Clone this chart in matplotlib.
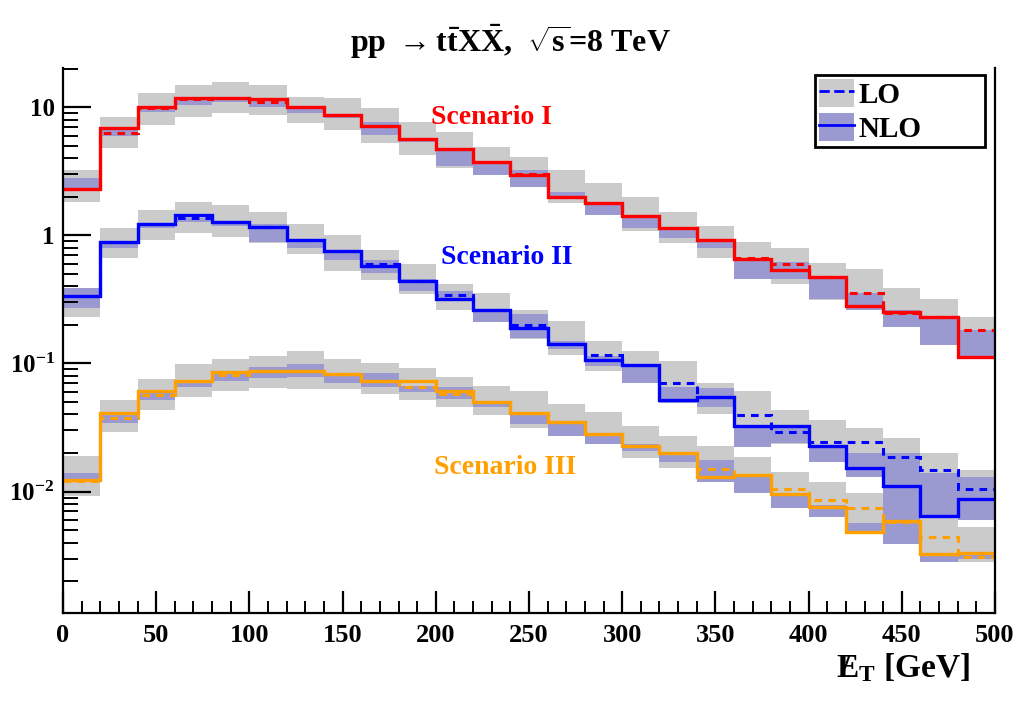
import matplotlib
matplotlib.use("Agg")
import matplotlib.pyplot as plt
import numpy as np
from matplotlib.patches import Patch
from matplotlib.lines import Line2D
from matplotlib.ticker import FixedLocator, FixedFormatter, LogLocator, NullFormatter, MultipleLocator

plt.rcParams['font.family'] = ['Liberation Serif', 'DejaVu Serif']
plt.rcParams['font.weight'] = 'bold'
plt.rcParams['mathtext.fontset'] = 'custom'
plt.rcParams['mathtext.rm'] = 'Liberation Serif:bold'
plt.rcParams['mathtext.bf'] = 'Liberation Serif:bold'
plt.rcParams['mathtext.it'] = 'Liberation Serif:italic:bold'

# bin edges in GeV
bin_edges = [0, 20, 40, 60, 80, 100, 120, 140, 160, 180, 200, 220, 240,
             260, 280, 300, 320, 340, 360, 380, 400, 420, 440, 460, 480, 500]

# Scenario I
s1_nlo = [2.29, 6.9, 10.06, 11.7, 11.7, 11.55, 10.06, 8.74, 7.1, 5.62, 4.68, 3.70, 2.94,
          1.99, 1.79, 1.41, 1.13, 0.914, 0.65, 0.54, 0.47, 0.279, 0.252, 0.229, 0.113]
s1_lo = [2.3, 6.24, 9.8, 11.5, 11.7, 11.0, 10.0, 8.74, 7.1, 5.6, 4.7, 3.70, 3.0,
         2.0, 1.79, 1.41, 1.13, 0.914, 0.66, 0.60, 0.47, 0.355, 0.246, 0.229, 0.181]
s1_lo_up = [3.22, 8.35, 12.9, 14.8, 15.6, 14.8, 11.96, 11.7, 9.77, 7.64, 6.36, 4.88, 4.05,
            3.22, 2.54, 1.99, 1.51, 1.19, 0.88, 0.80, 0.61, 0.55, 0.386, 0.318, 0.229]
s1_lo_dn = [1.81, 4.78, 7.23, 8.35, 8.99, 8.65, 7.49, 6.61, 5.21, 4.22, 3.38, 2.94, 2.37,
            1.78, 1.51, 1.09, 0.87, 0.66, 0.46, 0.42, 0.31, 0.295, 0.207, 0.167, 0.12]
s1_nlo_up = [2.79, 6.85, 10.0, 11.8, 12.0, 11.3, 10.0, 8.9, 7.64, 5.78, 4.61, 3.71, 3.22,
             2.17, 1.77, 1.41, 1.13, 0.914, 0.637, 0.62, 0.48, 0.355, 0.259, 0.229, 0.181]
s1_nlo_dn = [2.25, 5.96, 9.1, 10.4, 10.9, 10.0, 8.99, 8.2, 6.05, 5.3, 3.5, 2.94, 2.37,
             1.99, 1.45, 1.13, 0.96, 0.79, 0.46, 0.46, 0.32, 0.26, 0.193, 0.14, 0.112]

# Scenario II
s2_nlo = [0.338, 0.887, 1.23, 1.43, 1.27, 1.16, 0.914, 0.753, 0.573, 0.44, 0.32, 0.259, 0.19,
          0.143, 0.107, 0.098, 0.052, 0.055, 0.0324, 0.0324, 0.0229, 0.0153, 0.011, 0.0065, 0.0087]
s2_lo = [0.338, 0.887, 1.23, 1.37, 1.27, 1.16, 0.914, 0.753, 0.6, 0.44, 0.34, 0.259, 0.198,
         0.143, 0.117, 0.098, 0.070, 0.055, 0.0393, 0.029, 0.0243, 0.0243, 0.0187, 0.0147, 0.0105]
s2_lo_up = [0.39, 1.13, 1.57, 1.81, 1.71, 1.51, 1.23, 1.0, 0.763, 0.60, 0.42, 0.356, 0.259,
            0.216, 0.151, 0.126, 0.105, 0.07, 0.0614, 0.0431, 0.036, 0.0315, 0.026, 0.0202, 0.0147]
s2_lo_dn = [0.23, 0.66, 0.914, 1.05, 0.97, 0.87, 0.72, 0.53, 0.445, 0.35, 0.259, 0.21, 0.155,
            0.116, 0.088, 0.071, 0.052, 0.040, 0.0325, 0.0237, 0.0193, 0.0175, 0.0128, 0.0104, 0.0060]
s2_nlo_up = [0.39, 0.887, 1.23, 1.37, 1.27, 1.23, 0.914, 0.76, 0.637, 0.46, 0.37, 0.259, 0.245,
             0.151, 0.115, 0.097, 0.065, 0.064, 0.0324, 0.0315, 0.0229, 0.0202, 0.0202, 0.014, 0.0129]
s2_nlo_dn = [0.27, 0.79, 1.13, 1.26, 1.19, 0.88, 0.80, 0.64, 0.51, 0.37, 0.32, 0.21, 0.158,
             0.13, 0.096, 0.071, 0.049, 0.046, 0.0222, 0.0240, 0.0169, 0.0129, 0.0063, 0.0064, 0.0060]

# Scenario III
s3_nlo = [0.0124, 0.0412, 0.0608, 0.0736, 0.0855, 0.088, 0.088, 0.083, 0.0727, 0.0727, 0.0615,
          0.0499, 0.041, 0.0348, 0.0282, 0.0226, 0.0199, 0.0129, 0.0136, 0.0096, 0.0076, 0.0048,
          0.0059, 0.00326, 0.0033]
s3_lo = [0.0121, 0.0377, 0.057, 0.0736, 0.081, 0.088, 0.088, 0.083, 0.0727, 0.066, 0.0577,
         0.0499, 0.041, 0.0348, 0.0282, 0.0226, 0.0199, 0.0150, 0.0136, 0.0105, 0.0086, 0.0074,
         0.0058, 0.0044, 0.0031]
s3_lo_up = [0.0188, 0.0515, 0.075, 0.0996, 0.109, 0.115, 0.124, 0.109, 0.1, 0.093, 0.078,
            0.067, 0.0615, 0.0487, 0.0415, 0.0325, 0.0273, 0.0229, 0.0187, 0.0143, 0.0118, 0.0098,
            0.0078, 0.0063, 0.0053]
s3_lo_dn = [0.0092, 0.0290, 0.043, 0.0545, 0.061, 0.0645, 0.0635, 0.063, 0.058, 0.052, 0.046,
            0.0393, 0.0315, 0.0284, 0.0237, 0.0183, 0.0153, 0.0122, 0.0098, 0.0075, 0.0063, 0.0053,
            0.0039, 0.0028, 0.0028]
s3_nlo_up = [0.0140, 0.0406, 0.061, 0.0736, 0.085, 0.094, 0.0996, 0.083, 0.085, 0.067, 0.065,
             0.051, 0.0406, 0.0355, 0.0282, 0.0237, 0.02, 0.0175, 0.0136, 0.0098, 0.0078, 0.0057,
             0.0063, 0.0033, 0.0034]
s3_nlo_dn = [0.0124, 0.0346, 0.0515, 0.065, 0.0736, 0.0775, 0.079, 0.071, 0.065, 0.06, 0.053,
             0.046, 0.034, 0.0274, 0.0237, 0.0209, 0.0169, 0.0118, 0.0098, 0.0075, 0.0063, 0.0047,
             0.0039, 0.0028, 0.003]

scenario_names = ['Scenario I', 'Scenario II', 'Scenario III']
scenario_colors = ['#ff0000', '#0000ff', '#ffa000']
label_pos = [(230, 8.35), (238, 0.675), (237, 0.0154)]

GREY = '#cbcbcb'
BAND = '#9a9ad0'

scenarios = [
    (s1_nlo, s1_lo, s1_lo_up, s1_lo_dn, s1_nlo_up, s1_nlo_dn),
    (s2_nlo, s2_lo, s2_lo_up, s2_lo_dn, s2_nlo_up, s2_nlo_dn),
    (s3_nlo, s3_lo, s3_lo_up, s3_lo_dn, s3_nlo_up, s3_nlo_dn),
]

fig = plt.figure(figsize=(10.25, 7.07), dpi=100)
ax = fig.add_axes([63 / 1025, 1 - 613 / 707, 932 / 1025, 545 / 707])
ax.set_yscale('log')

# bands first
for nlo, lo, lo_up, lo_dn, nlo_up, nlo_dn in scenarios:
    ax.stairs(lo_up, bin_edges, baseline=lo_dn, fill=True, color=GREY, lw=0)
for nlo, lo, lo_up, lo_dn, nlo_up, nlo_dn in scenarios:
    ax.stairs(nlo_up, bin_edges, baseline=nlo_dn, fill=True, color=BAND, lw=0)

# step lines
for (nlo, lo, *_), col in zip(scenarios, scenario_colors):
    ax.stairs(lo, bin_edges, baseline=None, color=col, lw=2.2, ls=(0, (2.5, 2)))
    ax.stairs(nlo, bin_edges, baseline=None, color=col, lw=2.4)

for name, col, (px, py) in zip(scenario_names, scenario_colors, label_pos):
    ax.text(px, py, name, color=col, ha='center', va='center', fontsize=20, fontweight='bold')

ax.set_xlim(0, 500)
ax.set_ylim(1.13e-3, 20.2)

ax.spines['top'].set_visible(False)
for s in ['left', 'bottom', 'right']:
    ax.spines[s].set_linewidth(1.6)

ax.yaxis.set_major_locator(FixedLocator([0.01, 0.1, 1, 10]))
ax.yaxis.set_major_formatter(FixedFormatter([r'$\mathbf{10^{-2}}$', r'$\mathbf{10^{-1}}$', '1', '10']))
ax.yaxis.set_minor_locator(LogLocator(base=10, subs=np.arange(2, 10)))
ax.yaxis.set_minor_formatter(NullFormatter())
ax.xaxis.set_major_locator(MultipleLocator(50))
ax.xaxis.set_minor_locator(MultipleLocator(10))

ax.tick_params(axis='y', which='major', direction='in', length=20, width=1.6, pad=6, labelsize=18)
ax.tick_params(axis='y', which='minor', direction='in', length=11, width=1.4)
ax.tick_params(axis='x', which='major', direction='in', length=16, width=1.6, pad=8, labelsize=19)
ax.tick_params(axis='x', which='minor', direction='in', length=9, width=1.4)

handles = [(Patch(facecolor=GREY, edgecolor='none'), Line2D([], [], color='blue', ls='--', lw=2)),
           (Patch(facecolor=BAND, edgecolor='none'), Line2D([], [], color='blue', lw=2))]
leg = ax.legend(handles, ['LO', 'NLO'], loc='upper left', bbox_to_anchor=(0.807, 0.0, 0.182, 0.988),
                mode='expand', frameon=True, fancybox=False, edgecolor='black', framealpha=1,
                prop={'size': 21, 'weight': 'bold'}, handlelength=1.2, handleheight=1.1,
                borderpad=0.15, labelspacing=0.15, handletextpad=0.15, borderaxespad=0)
leg.get_frame().set_linewidth(2)

fig.text(0.4976, 1 - 42 / 707,
         r'$\mathbf{pp\ \rightarrow t\bar{t}X\bar{X}}$,  $\mathbf{\sqrt{s}}$=8 TeV',
         ha='center', va='center', fontsize=23, fontweight='bold')

fig.text(970 / 1025, 1 - 668 / 707, r'$\mathbf{/\!\!\!E_{T}}$ [GeV]',
         ha='right', va='center', fontsize=24, fontweight='bold')

fig.savefig('out.png', dpi=100)
